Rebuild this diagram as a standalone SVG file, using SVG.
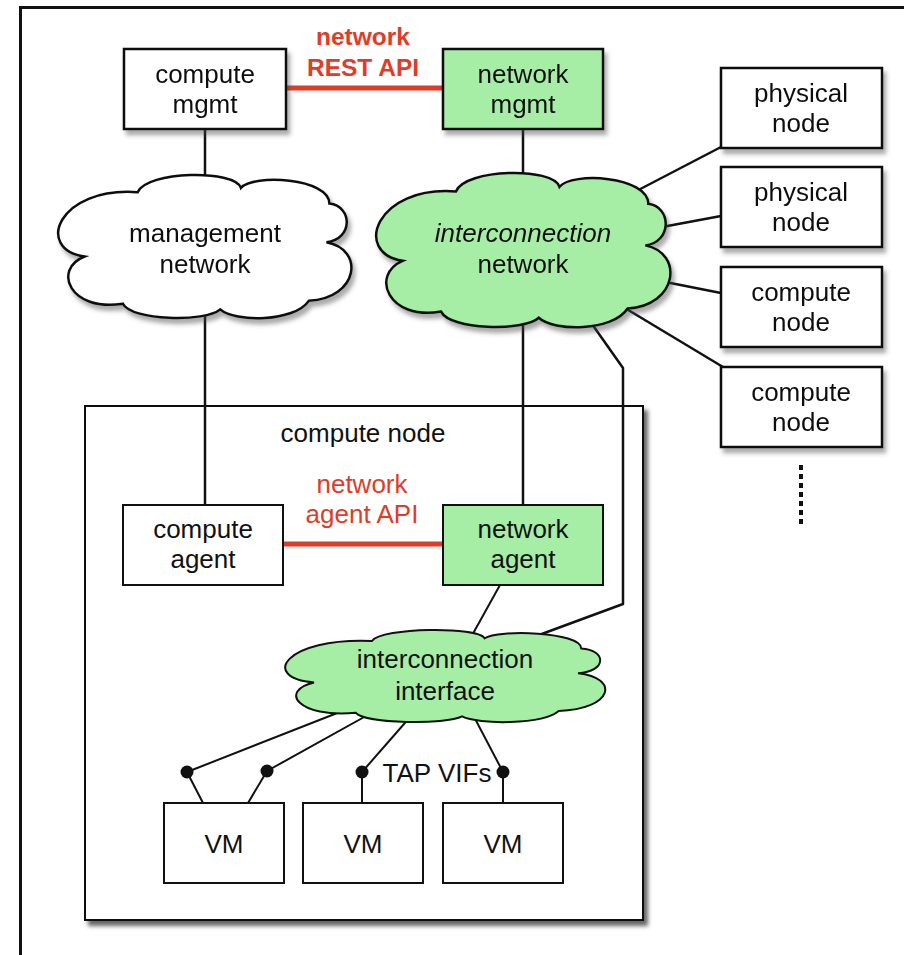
<svg xmlns="http://www.w3.org/2000/svg" width="904" height="955" viewBox="0 0 904 955">
  <style>
    text { font-family: "Liberation Sans", Arial, Helvetica, sans-serif; font-size: 26px; fill: #111; text-anchor: middle; }
    .box { fill: #fff; stroke: #111; stroke-width: 2.5; }
    .thin { fill: #fff; stroke: #111; stroke-width: 2; }
    .green { fill: #a6eea6; }
    .cloud { stroke: #111; stroke-width: 2.5; }
    .wire { fill: none; stroke: #111; stroke-width: 2.5; stroke-linejoin: round; }
    .wire-thin { fill: none; stroke: #111; stroke-width: 2; }
    .api { fill: none; stroke: #e03c28; stroke-width: 5; }
    .red { fill: #e03c28; }
    .bold { font-weight: bold; font-size: 24.5px; }
    .dot { fill: #111; }
  </style>
  <defs>
    <filter id="shadow" x="-10%" y="-10%" width="125%" height="130%">
      <feDropShadow dx="3" dy="5" stdDeviation="2.2" flood-color="#444" flood-opacity="0.45"/>
    </filter>
    <filter id="shadow-dark" x="-5%" y="-5%" width="115%" height="115%">
      <feDropShadow dx="4" dy="5" stdDeviation="2" flood-color="#000" flood-opacity="0.6"/>
    </filter>
    <!-- generic cloud outline in a 100x100 box; stroke width kept constant under scaling -->
    <path id="cloud" vector-effect="non-scaling-stroke" d="M27,12 C30,-3 60,-4 62,9 C66,-1 92,2 92,20 C100,22 100,45 91,47 C104,52 102,86 85,88 C80,103 60,103 55,94 C50,103 25,102 22,90 C4,96 -2,66 9,57 C-8,52 0,8 27,12 Z"/>
  </defs>

  <rect width="904" height="955" fill="#fff"/>
  <!-- outer frame -->
  <path d="M20.5,955 V7.5 H904" fill="none" stroke="#111" stroke-width="3"/>

  <!-- compute node container -->
  <g id="compute-node-host">
    <rect x="85" y="406" width="558" height="514" fill="#fff" stroke="#111" stroke-width="2" filter="url(#shadow-dark)"/>
    <text x="363" y="442">compute node</text>
  </g>

  <!-- connectors -->
  <g id="connectors">
    <line class="api" x1="286" y1="88" x2="443" y2="88"/>
    <line class="api" x1="283" y1="544" x2="443" y2="544"/>
    <line class="wire" x1="205" y1="129" x2="205" y2="200"/>
    <line class="wire" x1="523" y1="129" x2="523" y2="200"/>
    <line class="wire" x1="205" y1="290" x2="205" y2="505"/>
    <line class="wire" x1="523" y1="290" x2="523" y2="505"/>
    <line class="wire" x1="600" y1="210" x2="721" y2="147"/>
    <line class="wire" x1="630" y1="233" x2="721" y2="216"/>
    <line class="wire" x1="630" y1="275" x2="721" y2="293"/>
    <line class="wire" x1="590" y1="287" x2="723" y2="367"/>
    <polyline class="wire" points="575,300 623,368 623,604 520,642"/>
    <line class="wire-thin" x1="500" y1="585" x2="465" y2="648"/>
    <line class="wire-thin" x1="350" y1="708" x2="187" y2="772"/>
    <line class="wire-thin" x1="375" y1="711" x2="267" y2="771"/>
    <line class="wire-thin" x1="418" y1="708" x2="362" y2="772"/>
    <line class="wire-thin" x1="472" y1="713" x2="503" y2="772"/>
    <line class="wire-thin" x1="187" y1="772" x2="203" y2="803"/>
    <line class="wire-thin" x1="267" y1="771" x2="248" y2="803"/>
    <line class="wire-thin" x1="362" y1="772" x2="362" y2="803"/>
    <line class="wire-thin" x1="503" y1="772" x2="503" y2="803"/>
    <line x1="801" y1="465" x2="801" y2="525" stroke="#111" stroke-width="4" stroke-dasharray="5,4"/>
    <circle class="dot" cx="187" cy="772" r="6.5"/>
    <circle class="dot" cx="267" cy="771" r="6.5"/>
    <circle class="dot" cx="362" cy="772" r="6.5"/>
    <circle class="dot" cx="503" cy="772" r="6.5"/>
    <text class="red bold" x="363" y="45">network</text>
    <text class="red bold" x="363" y="76">REST API</text>
    <text class="red" x="362" y="493">network</text>
    <text class="red" x="362" y="523">agent API</text>
    <text x="437" y="782">TAP VIFs</text>
  </g>

  <g id="compute-mgmt" filter="url(#shadow)">
    <rect class="box" x="124" y="49" width="162" height="80"/>
    <text x="205" y="83">compute</text>
    <text x="205" y="113">mgmt</text>
  </g>

  <g id="network-mgmt" filter="url(#shadow)">
    <rect class="box green" x="443" y="49" width="160" height="80"/>
    <text x="523" y="83">network</text>
    <text x="523" y="113">mgmt</text>
  </g>

  <g id="management-network" filter="url(#shadow)">
    <use href="#cloud" class="cloud" fill="#fff" transform="translate(58,175) scale(2.95,1.43)"/>
    <text x="205" y="242">management</text>
    <text x="205" y="273">network</text>
  </g>

  <g id="interconnection-network" filter="url(#shadow)">
    <use href="#cloud" class="cloud" fill="#a6eea6" transform="translate(376,173) scale(2.96,1.54)"/>
    <text x="523" y="242" font-style="italic">interconnection</text>
    <text x="523" y="273">network</text>
  </g>

  <g id="physical-node-1" filter="url(#shadow)">
    <rect class="box" x="721" y="68" width="161" height="80"/>
    <text x="801" y="102">physical</text>
    <text x="801" y="132">node</text>
  </g>
  <g id="physical-node-2" filter="url(#shadow)">
    <rect class="box" x="721" y="167" width="161" height="80"/>
    <text x="801" y="201">physical</text>
    <text x="801" y="231">node</text>
  </g>
  <g id="compute-node-1" filter="url(#shadow)">
    <rect class="box" x="721" y="267" width="161" height="80"/>
    <text x="801" y="301">compute</text>
    <text x="801" y="331">node</text>
  </g>
  <g id="compute-node-2" filter="url(#shadow)">
    <rect class="box" x="721" y="367" width="161" height="80"/>
    <text x="801" y="401">compute</text>
    <text x="801" y="431">node</text>
  </g>

  <g id="compute-agent">
    <rect class="thin" x="123" y="505" width="160" height="80"/>
    <text x="203" y="538">compute</text>
    <text x="203" y="568">agent</text>
  </g>

  <g id="network-agent">
    <rect class="thin green" x="443" y="505" width="160" height="80"/>
    <text x="523" y="538">network</text>
    <text x="523" y="568">agent</text>
  </g>

  <g id="interconnection-interface">
    <use href="#cloud" class="cloud" fill="#a6eea6" style="stroke-width:2" transform="translate(285,630) scale(3.22,0.92)"/>
    <text x="445" y="668">interconnection</text>
    <text x="445" y="700">interface</text>
  </g>

  <g id="vm-1">
    <rect class="thin" x="164" y="803" width="120" height="80"/>
    <text x="224" y="853">VM</text>
  </g>
  <g id="vm-2">
    <rect class="thin" x="303" y="803" width="120" height="80"/>
    <text x="363" y="853">VM</text>
  </g>
  <g id="vm-3">
    <rect class="thin" x="443" y="803" width="120" height="80"/>
    <text x="503" y="853">VM</text>
  </g>
</svg>
